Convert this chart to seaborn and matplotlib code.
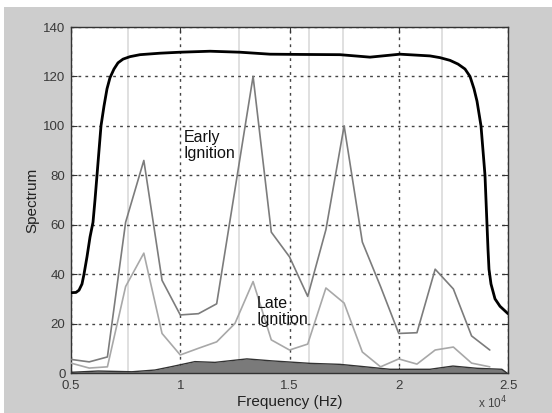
import numpy as np
import pandas as pd
import matplotlib
matplotlib.use("Agg")
import matplotlib.pyplot as plt
import seaborn as sns

# ---- data (frequency in Hz) ----
filter_freq = [5000, 5229, 5366, 5503, 5595, 5732, 5870, 6007, 6098, 6190, 6281, 6373,
               6510, 6648, 6785, 6968, 7151, 7380, 7700, 8158, 9073, 9989, 11362,
               12735, 14108, 15481, 17311, 18684, 20057, 21430, 21888, 22346, 22712,
               23032, 23261, 23444, 23581, 23673, 23764, 23856, 23947, 23993, 24039,
               24085, 24130, 24222, 24405, 24634, 25000]
filter_resp = [32.5, 32.6, 33.5, 36, 40, 47, 55, 61, 70, 80, 90, 100,
               108, 115, 119.5, 123, 125.5, 127, 128, 128.8, 129.4, 129.8, 130.2,
               129.8, 129, 128.9, 128.8, 127.8, 129, 128.3, 127.6, 126.5, 125,
               123, 120, 115, 110, 105, 100, 90, 80, 70, 60,
               50, 42, 36, 30, 27, 24]

ign_freq = [5000 + k * 833.33 for k in range(24)]
early = [5.5, 4.5, 6.5, 61, 86, 37.5, 23.5, 24, 28, 74, 120, 57,
         47, 31, 58, 100, 53, 35, 16, 16.3, 42, 34, 15, 9.3]
late = [4, 2, 2.5, 35, 48.5, 16, 7.3, 10, 12.6, 20, 37, 13.4,
        9.3, 11.7, 34.4, 28.3, 8.5, 2.5, 5.7, 3.6, 9.3, 10.5, 4, 2.5]

noise_freq = [5000, 5050, 6240, 7790, 8840, 9620, 10670, 11590, 13050, 14200, 15250,
              15940, 17310, 18360, 19600, 21430, 22480, 23580, 24720, 24950]
noise = [0, 0.3, 0.8, 0.5, 1.2, 2.6, 4.6, 4.3, 5.7, 4.9, 4.3,
         3.9, 3.5, 2.6, 1.5, 1.5, 2.8, 1.9, 1.5, 0]

resonance_freq = [7610, 12690, 15890, 17450, 21980]

xticks = [5000, 10000, 15000, 20000, 25000]
xticklabels = ["0.5", "1", "1.5", "2", "2.5"]
yticks = [0, 20, 40, 60, 80, 100, 120, 140]

# ---- figure ----
sns.set_theme(style="white")
plt.rcParams['font.family'] = ['Liberation Sans', 'DejaVu Sans']

fig = plt.figure(figsize=(5.52, 4.13), dpi=100)
fig.patch.set_facecolor("white")
bg = plt.Rectangle((4 / 552, 0), 1, 1 - 7 / 413, transform=fig.transFigure,
                   facecolor="#cdcdcd", edgecolor="none", zorder=-10)
fig.patches.append(bg)

ax = fig.add_axes([71 / 552, 40 / 413, (508 - 71) / 552, (373 - 27) / 413])
ax.set_facecolor("white")

for f in resonance_freq:
    ax.axvline(f, color="#dadada", lw=1.2, zorder=0)

ax.fill_between(noise_freq, noise, 0, color="#7a7a7a", lw=0, zorder=1)
sns.lineplot(x=noise_freq, y=noise, ax=ax, color="#333333", lw=1.0, zorder=2)

sns.lineplot(x=ign_freq, y=late, ax=ax, color="#a8a8a8", lw=1.2, zorder=3)
sns.lineplot(x=ign_freq, y=early, ax=ax, color="#7c7c7c", lw=1.2, zorder=4)
sns.lineplot(x=filter_freq, y=filter_resp, ax=ax, color="black", lw=2.0, zorder=5)

ax.set_xlim(5000, 25000)
ax.set_ylim(0, 140)
ax.set_xticks(xticks)
ax.set_xticklabels(xticklabels)
ax.set_yticks(yticks)

ax.grid(True, color="#444444", linestyle=(0, (2, 3)), lw=1.0)
ax.set_axisbelow(True)
for g in ax.get_xgridlines() + ax.get_ygridlines():
    g.set_zorder(0.5)

for s in ax.spines.values():
    s.set_color("#333333")
    s.set_linewidth(1.0)

ax.tick_params(axis="both", direction="in", length=4, width=0.8, color="#333333",
               labelsize=9.5, labelcolor="#3a3a3a")
ax.tick_params(axis="x", pad=5)
ax.tick_params(axis="y", pad=4)
ax.xaxis.set_ticks_position("both")
ax.yaxis.set_ticks_position("both")

ax.set_xlabel("Frequency (Hz)", fontsize=11, color="#222222", labelpad=2)
ax.set_ylabel("Spectrum", fontsize=11, color="#222222", labelpad=3)

ax.text(10150, 92, "Early\nIgnition", fontsize=11.5, color="#111111",
        ha="left", va="center", linespacing=1.1, zorder=6)
ax.text(13500, 25, "Late\nIgnition", fontsize=11.5, color="#111111",
        ha="left", va="center", linespacing=1.1, zorder=6)

fig.text(478 / 552, 1 - 403 / 413, r"x 10$^4$", fontsize=8.5, color="#444444",
         ha="left", va="center")

fig.savefig("out.png", dpi=100, facecolor=fig.get_facecolor())
